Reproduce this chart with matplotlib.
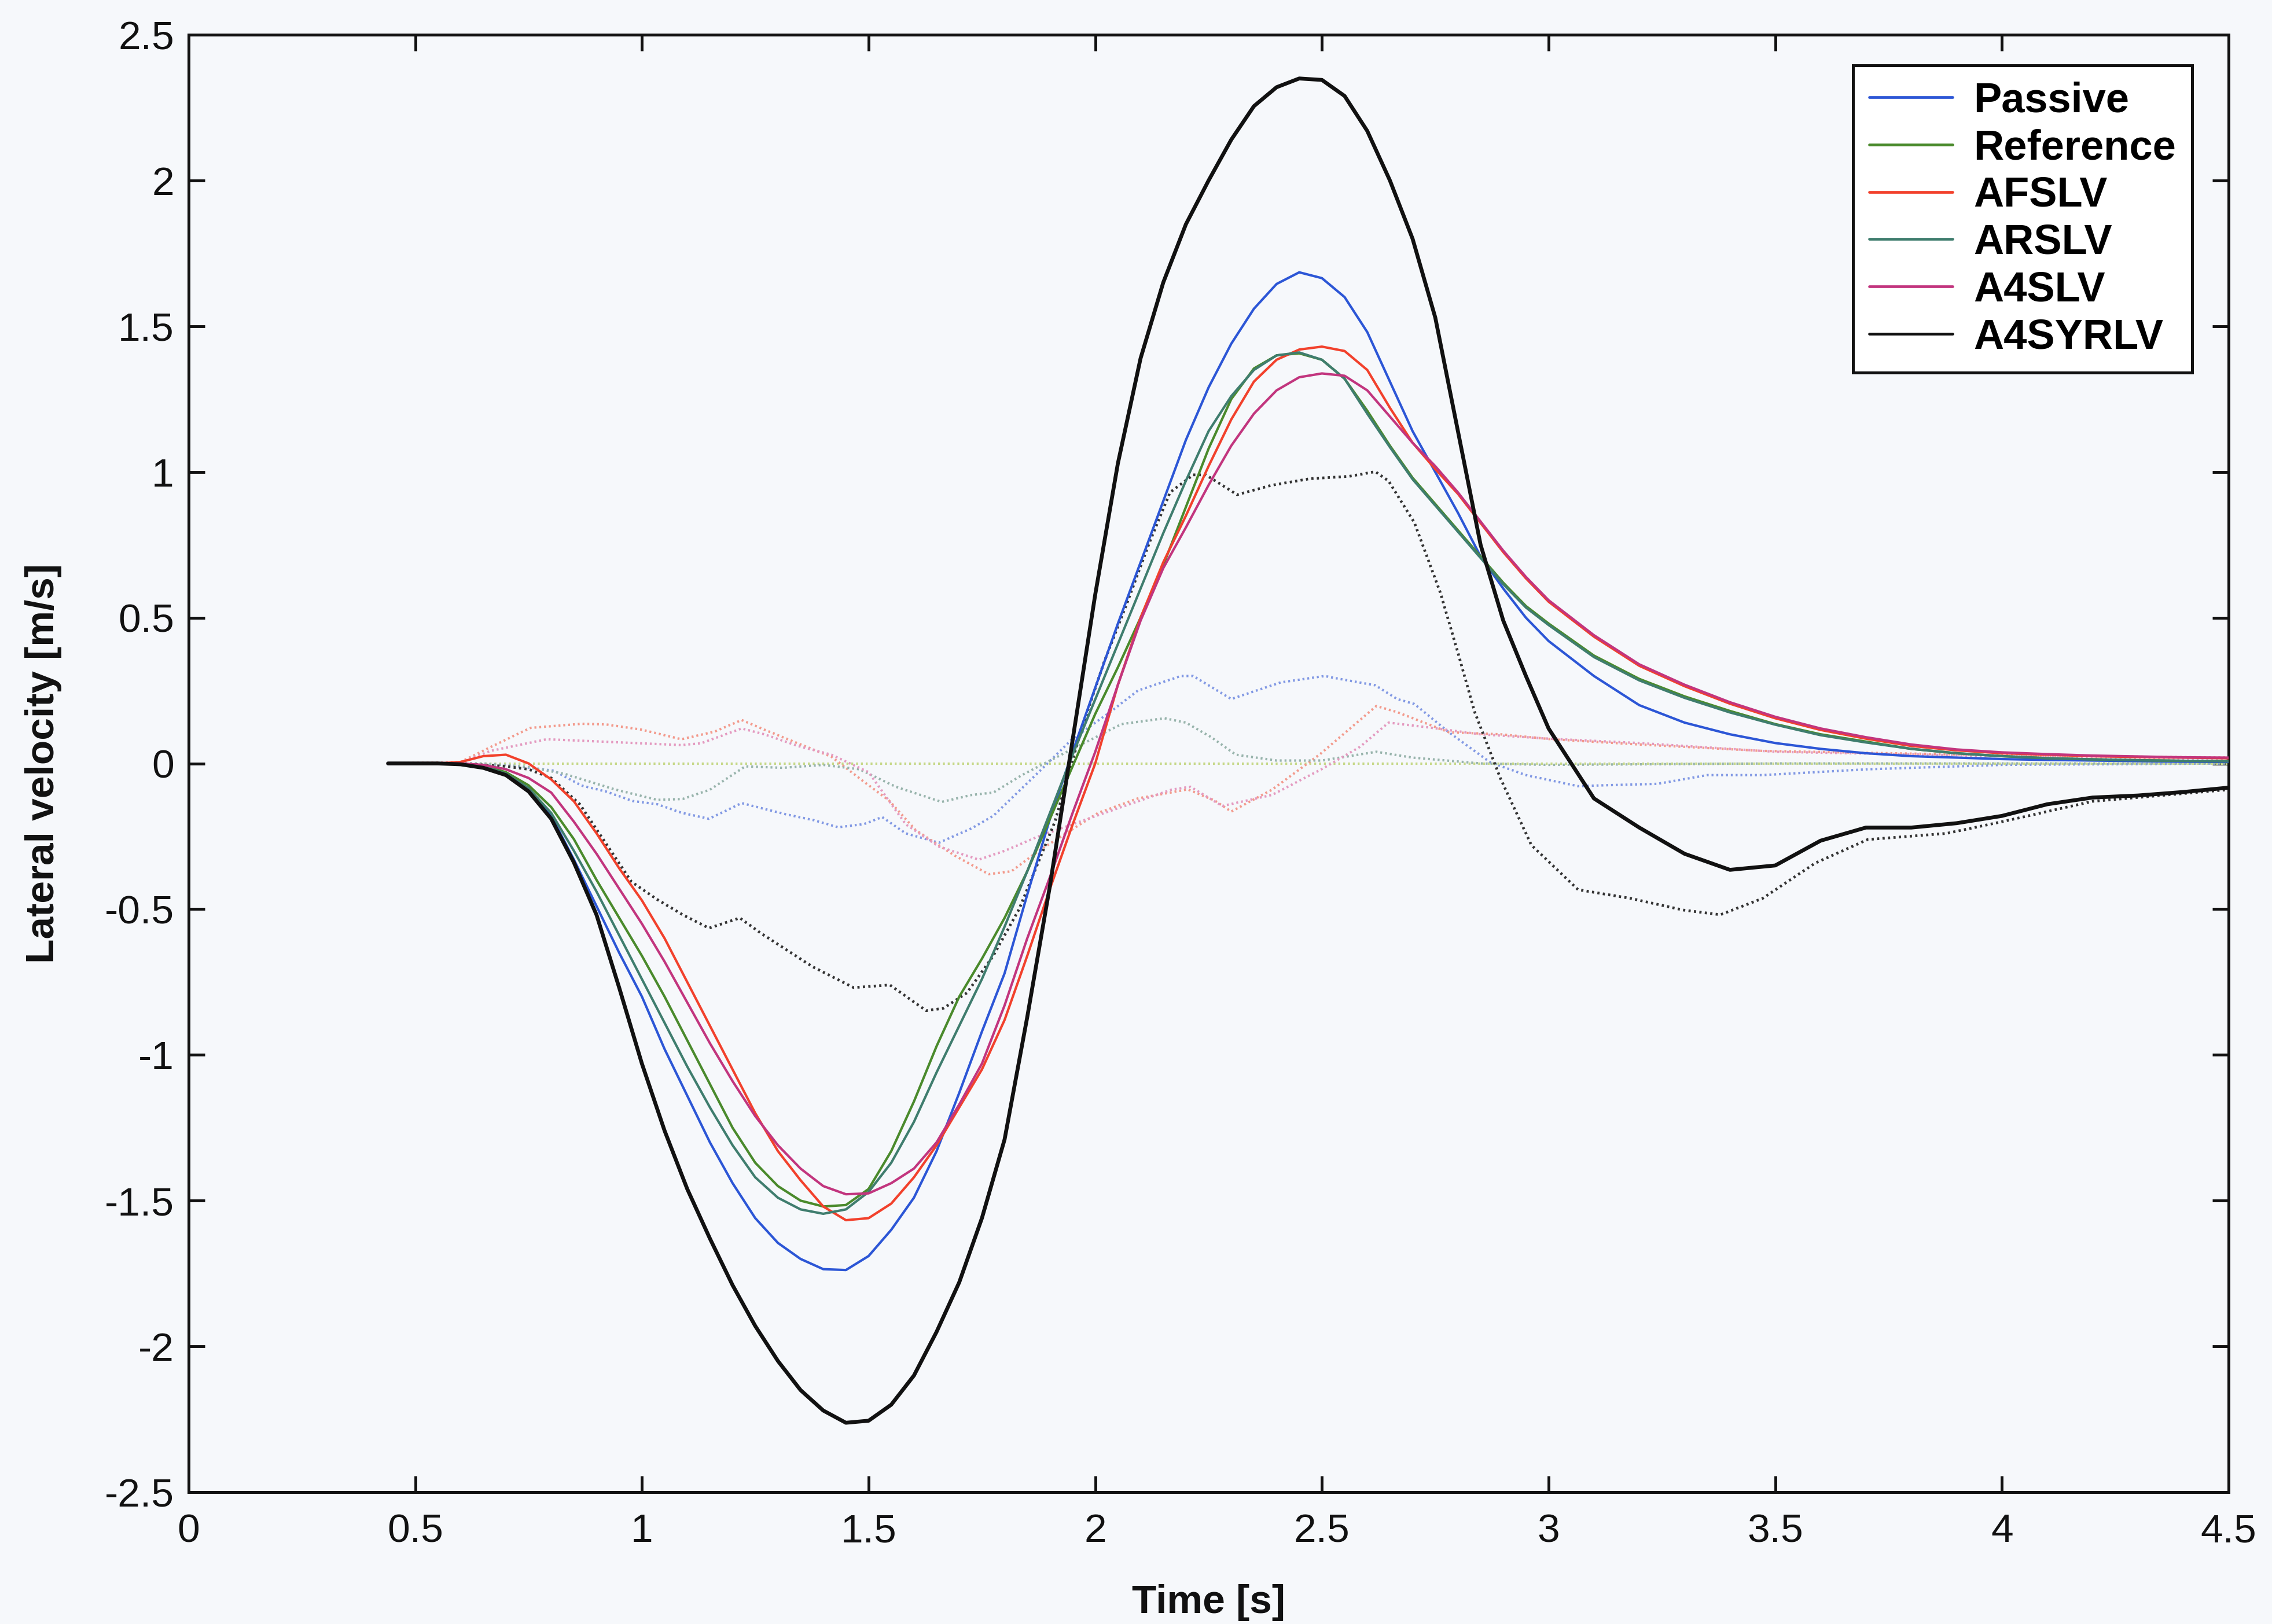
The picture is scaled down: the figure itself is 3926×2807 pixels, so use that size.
import matplotlib
matplotlib.use("Agg")
import matplotlib.pyplot as plt

plt.rcParams['font.family'] = ['Liberation Sans', 'DejaVu Sans']

# ---------------- data ----------------
T = [0.44, 0.5, 0.55, 0.6, 0.65, 0.7, 0.75, 0.8, 0.85, 0.9, 0.95, 1.0, 1.05, 1.1, 1.15,
     1.2, 1.25, 1.3, 1.35, 1.4, 1.45, 1.5, 1.55, 1.6, 1.65, 1.7, 1.75, 1.8, 1.85, 1.9,
     1.95, 2.0, 2.05, 2.1, 2.15, 2.2, 2.25, 2.3, 2.35, 2.4, 2.45, 2.5, 2.55, 2.6, 2.65,
     2.7, 2.75, 2.8, 2.85, 2.9, 2.95, 3.0, 3.1, 3.2, 3.3, 3.4, 3.5, 3.6, 3.7, 3.8, 3.9,
     4.0, 4.1, 4.2, 4.3, 4.4, 4.5]

passive = [0, 0, 0, 0, -0.01, -0.035, -0.09, -0.18, -0.33, -0.49, -0.65, -0.8, -0.98, -1.14, -1.3,
           -1.44, -1.56, -1.645, -1.70, -1.735, -1.738, -1.69, -1.6, -1.49, -1.33, -1.13, -0.92, -0.72, -0.45, -0.19,
           0.04, 0.26, 0.48, 0.69, 0.9, 1.11, 1.29, 1.44, 1.56, 1.645, 1.685, 1.665, 1.6, 1.48, 1.31,
           1.14, 1.0, 0.86, 0.71, 0.6, 0.5, 0.42, 0.3, 0.2, 0.14, 0.1, 0.07, 0.05, 0.035, 0.025, 0.02,
           0.015, 0.012, 0.01, 0.008, 0.006, 0.005]

reference = [0, 0, 0, -0.002, -0.008, -0.03, -0.075, -0.15, -0.26, -0.40, -0.53, -0.66, -0.8, -0.95, -1.1,
             -1.25, -1.37, -1.45, -1.50, -1.52, -1.515, -1.46, -1.33, -1.16, -0.97, -0.8, -0.67, -0.53, -0.37, -0.19,
             -0.01, 0.17, 0.33, 0.5, 0.68, 0.88, 1.08, 1.25, 1.355, 1.40, 1.407, 1.385, 1.32, 1.21, 1.09,
             0.98, 0.89, 0.8, 0.71, 0.62, 0.54, 0.48, 0.37, 0.29, 0.23, 0.18, 0.135, 0.1, 0.075, 0.05, 0.035,
             0.025, 0.018, 0.014, 0.011, 0.009, 0.008]

afslv = [0, 0, 0, 0.005, 0.025, 0.03, 0.0, -0.055, -0.13, -0.24, -0.36, -0.47, -0.6, -0.75, -0.9,
         -1.05, -1.2, -1.33, -1.43, -1.52, -1.567, -1.56, -1.51, -1.42, -1.31, -1.18, -1.05, -0.88, -0.66, -0.43,
         -0.21, 0.0, 0.27, 0.5, 0.69, 0.85, 1.02, 1.18, 1.31, 1.385, 1.42, 1.43, 1.415, 1.35, 1.22,
         1.1, 1.01, 0.925, 0.825, 0.725, 0.635, 0.555, 0.435, 0.335, 0.265, 0.205, 0.155, 0.115, 0.085, 0.06, 0.045,
         0.035, 0.03, 0.025, 0.022, 0.02, 0.018]

arslv = [0, 0, 0, -0.002, -0.01, -0.035, -0.085, -0.17, -0.3, -0.44, -0.59, -0.74, -0.89, -1.04, -1.18,
         -1.31, -1.42, -1.49, -1.53, -1.545, -1.53, -1.47, -1.37, -1.23, -1.06, -0.9, -0.74, -0.56, -0.37, -0.17,
         0.03, 0.22, 0.41, 0.6, 0.79, 0.97, 1.14, 1.26, 1.35, 1.40, 1.41, 1.385, 1.32, 1.2, 1.085,
         0.975, 0.885, 0.795, 0.705, 0.615, 0.535, 0.475, 0.365, 0.285, 0.225, 0.175, 0.133, 0.097, 0.072, 0.05, 0.035,
         0.025, 0.018, 0.014, 0.011, 0.009, 0.008]

a4slv = [0, 0, 0, 0, -0.005, -0.02, -0.05, -0.1, -0.2, -0.31, -0.43, -0.55, -0.68, -0.82, -0.96,
         -1.09, -1.21, -1.31, -1.39, -1.45, -1.478, -1.475, -1.44, -1.39, -1.3, -1.17, -1.03, -0.83, -0.6, -0.39,
         -0.17, 0.04, 0.27, 0.49, 0.67, 0.81, 0.955, 1.09, 1.2, 1.28, 1.325, 1.338, 1.33, 1.28, 1.19,
         1.1, 1.02, 0.93, 0.83, 0.73, 0.64, 0.56, 0.44, 0.34, 0.27, 0.21, 0.16, 0.12, 0.09, 0.065, 0.048,
         0.038, 0.032, 0.027, 0.024, 0.021, 0.02]

a4syrlv = [0, 0, 0, -0.003, -0.015, -0.04, -0.096, -0.19, -0.34, -0.52, -0.77, -1.03, -1.26, -1.46, -1.63,
           -1.79, -1.93, -2.05, -2.15, -2.22, -2.262, -2.255, -2.2, -2.1, -1.95, -1.78, -1.56, -1.29, -0.87, -0.42,
           0.08, 0.58, 1.03, 1.39, 1.65, 1.85, 2.0, 2.14, 2.255, 2.32, 2.35, 2.345, 2.29, 2.17, 2.0,
           1.8, 1.53, 1.14, 0.75, 0.49, 0.3, 0.12, -0.12, -0.22, -0.31, -0.365, -0.35, -0.265, -0.22, -0.22, -0.205,
           -0.18, -0.14, -0.117, -0.11, -0.098, -0.083]

# dotted error traces (controller minus reference), each with its own time samples
t_err_passive = [0.44, 0.6, 0.7, 0.806, 0.867, 0.92, 0.98, 1.034, 1.087, 1.148, 1.22, 1.27, 1.319, 1.38,
                 1.433, 1.49, 1.53, 1.582, 1.655, 1.728, 1.775, 1.875, 1.948, 2.036, 2.094, 2.189, 2.216,
                 2.3, 2.409, 2.506, 2.532, 2.618, 2.666, 2.704, 2.78, 2.871, 2.95, 3.065, 3.122, 3.24,
                 3.35, 3.472, 3.704, 4.0, 4.5]
err_passive = [0, 0, -0.005, -0.025, -0.076, -0.096, -0.129, -0.14, -0.169, -0.19, -0.136, -0.156, -0.175, -0.195,
               -0.219, -0.208, -0.184, -0.24, -0.272, -0.222, -0.18, -0.03, 0.082, 0.18, 0.25, 0.30, 0.3,
               0.221, 0.278, 0.30, 0.292, 0.268, 0.221, 0.204, 0.107, 0.004, -0.04, -0.078, -0.075, -0.07,
               -0.04, -0.04, -0.02, -0.005, 0]

t_err_reference = [0.44, 4.5]
err_reference = [0, 0]

t_err_afslv = [0.44, 0.6, 0.666, 0.754, 0.867, 0.92, 0.999, 1.087, 1.16, 1.22, 1.27, 1.344, 1.418, 1.49,
               1.545, 1.604, 1.69, 1.765, 1.815, 1.875, 2.006, 2.094, 2.204, 2.263, 2.3, 2.39, 2.496,
               2.62, 2.666, 2.78, 2.894, 3.007, 3.2, 3.472, 4.0, 4.5]
err_afslv = [0, 0.005, 0.056, 0.122, 0.136, 0.134, 0.116, 0.083, 0.109, 0.149, 0.116, 0.069, 0.023, -0.063,
             -0.127, -0.229, -0.316, -0.38, -0.37, -0.3, -0.17, -0.12, -0.089, -0.127, -0.165, -0.09, 0.032,
             0.197, 0.176, 0.107, 0.1, 0.083, 0.065, 0.043, 0.028, 0.02]

t_err_arslv = [0.44, 0.65, 0.75, 0.83, 0.94, 1.034, 1.09, 1.15, 1.228, 1.31, 1.4, 1.48, 1.56, 1.661,
               1.728, 1.775, 1.838, 1.888, 1.95, 2.058, 2.153, 2.2, 2.256, 2.31, 2.4, 2.5, 2.62, 2.7,
               2.85, 3.0, 3.5, 4.5]
err_arslv = [0, 0, -0.012, -0.036, -0.089, -0.125, -0.122, -0.09, -0.01, -0.015, -0.005, -0.02, -0.08, -0.132,
             -0.108, -0.1, -0.04, 0.0, 0.05, 0.135, 0.155, 0.14, 0.09, 0.03, 0.01, 0.01, 0.04, 0.02,
             0.0, -0.005, 0.0, 0.0]

t_err_a4slv = [0.44, 0.6, 0.666, 0.79, 0.94, 1.087, 1.13, 1.22, 1.27, 1.344, 1.418, 1.5, 1.582, 1.655,
               1.743, 1.8, 1.875, 2.02, 2.168, 2.21, 2.28, 2.39, 2.5, 2.584, 2.647, 2.733, 2.85, 3.0,
               3.2, 3.5, 4.0, 4.5]
err_a4slv = [0, 0.003, 0.043, 0.083, 0.073, 0.063, 0.069, 0.12, 0.1, 0.06, 0.03, -0.03, -0.209, -0.285,
             -0.33, -0.3, -0.25, -0.17, -0.09, -0.08, -0.146, -0.108, -0.019, 0.057, 0.14, 0.124, 0.1, 0.085,
             0.07, 0.04, 0.025, 0.015]

t_err_a4syrlv = [0.44, 0.6, 0.65, 0.7, 0.75, 0.8, 0.863, 0.92, 0.977, 1.034, 1.091, 1.148, 1.216, 1.262,
                 1.376, 1.467, 1.547, 1.627, 1.665, 1.717, 1.775, 1.832, 1.911, 1.97, 2.02, 2.07, 2.12,
                 2.165, 2.216, 2.244, 2.313, 2.388, 2.474, 2.56, 2.618, 2.647, 2.704, 2.761, 2.8, 2.837,
                 2.894, 2.962, 3.065, 3.181, 3.297, 3.379, 3.472, 3.588, 3.704, 3.878, 4.0, 4.2, 4.5]
err_a4syrlv = [0, 0, -0.005, -0.01, -0.02, -0.05, -0.14, -0.273, -0.406, -0.467, -0.52, -0.565, -0.53, -0.582,
               -0.697, -0.769, -0.76, -0.848, -0.84, -0.787, -0.66, -0.5, -0.2, 0.12, 0.35, 0.55, 0.76,
               0.93, 0.99, 0.99, 0.922, 0.954, 0.977, 0.985, 1.001, 0.969, 0.826, 0.587, 0.38, 0.176,
               -0.052, -0.28, -0.433, -0.463, -0.503, -0.519, -0.463, -0.342, -0.261, -0.24, -0.2, -0.13, -0.09]

labels = ['Passive', 'Reference', 'AFSLV', 'ARSLV', 'A4SLV', 'A4SYRLV']
x_ticks = [0, 0.5, 1, 1.5, 2, 2.5, 3, 3.5, 4, 4.5]
y_ticks = [-2.5, -2, -1.5, -1, -0.5, 0, 0.5, 1, 1.5, 2, 2.5]

# ---------------- figure ----------------
bg = '#f6f8fb'
fig = plt.figure(figsize=(39.26, 28.07), dpi=100, facecolor=bg)
ax = fig.add_axes([0.0830, 0.0812, 0.8979, 0.8974], facecolor=bg)

solid_colors = ['#2c56d6', '#4a8a2c', '#f2412c', '#3f7d6e', '#c2357e', '#111111']
dot_colors = ['#8299e4', '#c6d888', '#f39a8c', '#98b4ac', '#e49ac0', '#333333']

errs = [(t_err_passive, err_passive), (t_err_reference, err_reference), (t_err_afslv, err_afslv),
        (t_err_arslv, err_arslv), (t_err_a4slv, err_a4slv), (t_err_a4syrlv, err_a4syrlv)]
for (te, ve), c in zip(errs, dot_colors):
    lw = 3.4 if c == '#333333' else 3.0
    ax.plot(te, ve, color=c, lw=lw, ls=(0, (0.8, 1.2)), zorder=2)

series = [passive, reference, afslv, arslv, a4slv, a4syrlv]
for vals, c, lab in zip(series, solid_colors, labels):
    lw = 4.8 if lab == 'A4SYRLV' else 3.0
    ax.plot(T, vals, color=c, lw=lw, label=lab, zorder=3,
            solid_joinstyle='round', solid_capstyle='round')

ax.set_xlim(0, 4.5)
ax.set_ylim(-2.5, 2.5)
ax.set_xticks(x_ticks)
ax.set_yticks(y_ticks)
ax.set_xticklabels([f'{v:g}' for v in x_ticks])
ax.set_yticklabels([f'{v:g}' for v in y_ticks])
ax.tick_params(direction='in', length=20, width=3.5, top=True, right=True,
               labelsize=50, colors='#111111')
ax.tick_params(axis='x', pad=26)
ax.tick_params(axis='y', pad=18)
for s in ax.spines.values():
    s.set_linewidth(3.6)
    s.set_color('#111111')

ax.set_xlabel('Time [s]', fontsize=50, fontweight='bold', color='#111111')
ax.set_ylabel('Lateral velocity [m/s]', fontsize=50, fontweight='bold', color='#111111')
ax.xaxis.set_label_coords(0.5, -0.063)
ax.yaxis.set_label_coords(-0.062, 0.5)

leg = ax.legend(loc='upper right', bbox_to_anchor=(0.982, 0.979), borderaxespad=0,
                prop={'weight': 'bold', 'size': 52}, frameon=True, fancybox=False,
                handlelength=2.0, handletextpad=0.5, labelspacing=0.19, borderpad=0.38)
leg.get_frame().set_edgecolor('#111111')
leg.get_frame().set_linewidth(3.6)
leg.get_frame().set_facecolor('white')
leg.get_frame().set_alpha(1)
for lh in leg.get_lines():
    lh.set_linewidth(3.4)

fig.savefig('out.png', dpi=100, facecolor=bg)
